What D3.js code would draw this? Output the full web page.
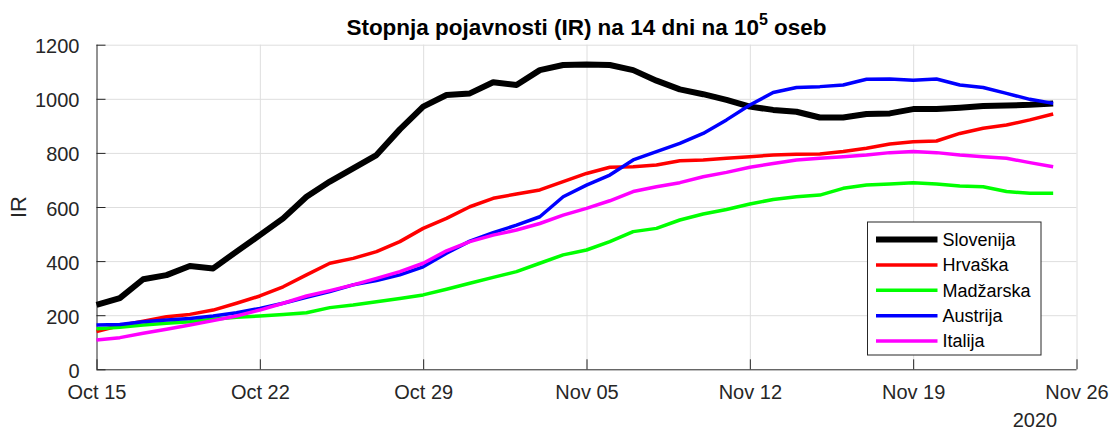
<!DOCTYPE html>
<html>
<head>
<meta charset="utf-8">
<script src="https://cdn.jsdelivr.net/npm/d3@7"></script>
<style>
    body { margin: 0; background: #fff; overflow: hidden; }
    svg { display: block; }
    text { font-family: "Liberation Sans", Arial, Helvetica, sans-serif; }
    .grid line { stroke: #dedede; stroke-width: 1; }
    .line-path { fill: none; stroke-linejoin: round; stroke-linecap: butt; }
</style>
</head>
<body>
<div id="graph"></div>
<script>
// Countries and colours, in legend order
const countries = ["Slovenija", "Hrvaška", "Madžarska", "Austrija", "Italija"];
const colors = ["#000000", "#ff0000", "#00ff00", "#0000ff", "#ff00ff"];
const widths = [6, 3.5, 3.5, 3.5, 3.5];

// Daily IR values, Oct 15 - Nov 25 2020
const slovenija = [238, 263, 333, 348, 382, 373, 435, 496, 558, 638, 694, 743, 792, 887,
    971, 1014, 1020, 1061, 1051, 1106, 1125, 1127, 1125, 1106, 1067, 1035, 1017, 996,
    971, 959, 952, 931, 931, 944, 946, 962, 962, 967, 973, 975, 978, 983];
const hrvaska = [140, 162, 178, 194, 203, 219, 244, 271, 305, 349, 392, 410, 435, 472,
    521, 558, 601, 632, 648, 663, 694, 724, 747, 749, 755, 771, 774, 780,
    786, 792, 795, 796, 805, 817, 833, 841, 844, 872, 891, 903, 922, 944];
const madzarska = [150, 155, 164, 170, 176, 185, 192, 197, 203, 209, 228, 238, 250, 262,
    275, 296, 318, 340, 361, 392, 423, 441, 472, 509, 521, 552, 574, 591,
    611, 628, 638, 644, 669, 681, 685, 690, 685, 678, 675, 657, 651, 651];
const austrija = [164, 166, 176, 182, 188, 197, 209, 225, 244, 266, 287, 312, 328, 349,
    379, 429, 474, 505, 533, 564, 638, 681, 718, 774, 805, 835, 872, 922,
    977, 1023, 1042, 1045, 1051, 1072, 1073, 1069, 1073, 1051, 1042, 1020, 998, 983];
const italija = [108, 117, 133, 148, 164, 180, 197, 219, 244, 271, 291, 312, 336, 361,
    392, 438, 472, 496, 515, 539, 570, 595, 623, 657, 675, 690, 712, 728,
    747, 761, 774, 780, 786, 792, 801, 805, 801, 792, 786, 780, 764, 749];

// Axis ticks
const yTicks = [0, 200, 400, 600, 800, 1000, 1200];
const xTickDates = ["2020-10-15", "2020-10-22", "2020-10-29", "2020-11-05", "2020-11-12", "2020-11-19", "2020-11-26"];
const yearLabel = "2020";

const seriesValues = [slovenija, hrvaska, madzarska, austrija, italija];
const startDate = new Date(Date.UTC(2020, 9, 15));

// This is creating width, height and margins on graph
const w = 1114;
const h = 432;
const margin = { top: 44.7, right: 37.5, bottom: 62.7, left: 96.5 };
const innerWidth = w - margin.left - margin.right;
const innerHeight = h - margin.top - margin.bottom;

const svg = d3.select("#graph")
    .append("svg")
    .attr("width", w)
    .attr("height", h);

const xScale = d3.scaleUtc()
    .domain([new Date(xTickDates[0]), new Date(xTickDates[xTickDates.length - 1])])
    .range([0, innerWidth]);

const yScale = d3.scaleLinear()
    .domain([0, 1200])
    .range([innerHeight, 0]);

const g = svg.append("g")
    .attr("transform", `translate(${margin.left},${margin.top})`);

// Grid lines
const gridG = g.append("g").attr("class", "grid");
gridG.selectAll(".gy")
    .data(yTicks.slice(1))
    .enter()
    .append("line")
    .attr("x1", 0).attr("x2", innerWidth)
    .attr("y1", d => yScale(d) + 0.5).attr("y2", d => yScale(d) + 0.5);
gridG.selectAll(".gx")
    .data(xTickDates.slice(1))
    .enter()
    .append("line")
    .attr("x1", d => xScale(new Date(d)) + 0.5).attr("x2", d => xScale(new Date(d)) + 0.5)
    .attr("y1", 0).attr("y2", innerHeight);

// Axes
const yAxis = d3.axisLeft(yScale)
    .tickValues(yTicks)
    .tickFormat(d3.format("d"))
    .tickSizeInner(-9)
    .tickSizeOuter(0)
    .tickPadding(17);
const xAxis = d3.axisBottom(xScale)
    .tickValues(xTickDates.map(d => new Date(d)))
    .tickFormat(d3.utcFormat("%b %d"))
    .tickSizeInner(-10)
    .tickSizeOuter(0)
    .tickPadding(20);

const yAxisG = g.append("g").call(yAxis);
const xAxisG = g.append("g").call(xAxis)
    .attr("transform", `translate(0, ${innerHeight})`);

[yAxisG, xAxisG].forEach(a => {
    a.attr("fill", null).attr("font-size", null).attr("font-family", null).attr("text-anchor", null);
    a.select(".domain").attr("fill", "none");
    a.selectAll("path, line").attr("stroke", "#262626");
    a.selectAll("text").attr("fill", "#262626").attr("font-size", 20);
});
// put the labels on plain baselines instead of em offsets
yAxisG.selectAll(".tick text").attr("dy", null).attr("y", 8).attr("text-anchor", "end");
xAxisG.selectAll(".tick text").attr("dy", null).attr("y", 30).attr("text-anchor", "middle");
yAxisG.select(".domain").attr("d", `M0.5,${innerHeight}V0`);
xAxisG.select(".domain").attr("d", `M0,0.5H${innerWidth}`);

// Lines for each country
const lineGenerator = d3.line()
    .x((d, i) => xScale(d3.utcDay.offset(startDate, i)))
    .y(d => yScale(d));

seriesValues.forEach((vals, k) => {
    g.append("path")
        .attr("class", "line-path")
        .attr("stroke", colors[k])
        .attr("stroke-width", widths[k])
        .attr("d", lineGenerator(vals));
});

// Title with superscript
const title = svg.append("text")
    .attr("x", margin.left + innerWidth / 2)
    .attr("y", 35)
    .attr("text-anchor", "middle")
    .attr("font-size", 22.5)
    .attr("font-weight", "bold")
    .attr("fill", "#000");
title.append("tspan").text("Stopnja pojavnosti (IR) na 14 dni na 10");
title.append("tspan").text("5").attr("dy", -10).attr("font-size", 16);
title.append("tspan").text(" oseb").attr("dy", 10);

// Y label
svg.append("text")
    .attr("transform", `translate(26, ${margin.top + innerHeight / 2}) rotate(-90)`)
    .attr("text-anchor", "middle")
    .attr("font-size", 22)
    .attr("fill", "#262626")
    .text("IR");

// Year under the last tick
svg.append("text")
    .attr("x", 1035)
    .attr("y", 427)
    .attr("text-anchor", "middle")
    .attr("font-size", 20)
    .attr("fill", "#262626")
    .text(yearLabel);

// Legend
const legend = svg.append("g").attr("transform", "translate(867.5, 222)");
legend.append("rect")
    .attr("width", 173.5)
    .attr("height", 133)
    .attr("fill", "#fff")
    .attr("stroke", "#262626")
    .attr("stroke-width", 1);
const items = legend.selectAll(".item")
    .data(countries)
    .enter()
    .append("g")
    .attr("transform", (d, i) => `translate(0, ${17.5 + i * 25.4})`);
items.append("line")
    .attr("x1", 8.5).attr("x2", 70)
    .attr("stroke", (d, i) => colors[i])
    .attr("stroke-width", (d, i) => widths[i]);
items.append("text")
    .attr("x", 75)
    .attr("dy", "0.35em")
    .attr("font-size", 18)
    .attr("fill", "#000")
    .text(d => d);
</script>
</body>
</html>
